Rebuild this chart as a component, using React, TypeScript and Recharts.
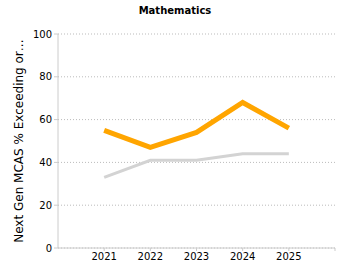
import React from 'react'
import { CartesianGrid, Label, Line, LineChart, XAxis, YAxis } from 'recharts'

const years = [2021, 2022, 2023, 2024, 2025]
const schoolValues = [55, 47, 54, 68, 56]
const stateValues = [33, 41, 41, 44, 44]
const xTicks = [2021, 2022, 2023, 2024, 2025, 2026]
const yTicks = [0, 20, 40, 60, 80, 100]

const data = years.map((year, i) => ({ year, school: schoolValues[i], state: stateValues[i] }))

const font = 'DejaVu Sans, Verdana, sans-serif'

const App: React.FC = () => {
  return (
    <div style={{ position: 'absolute', left: 0, top: 0, width: 350, height: 280, fontFamily: font }}>
      <div
        style={{
          position: 'absolute',
          top: 5,
          left: 0,
          width: 350,
          textAlign: 'center',
          fontSize: 10,
          fontWeight: 'bold',
        }}
      >
        Mathematics
      </div>
      <LineChart width={350} height={280} data={data} margin={{ top: 34, right: 15, left: 0, bottom: 2 }}>
        <CartesianGrid vertical={false} stroke="#bbb" strokeDasharray="1 2" />
        <XAxis
          dataKey="year"
          type="number"
          domain={[2020, 2026]}
          ticks={xTicks}
          tickFormatter={(v: number) => (v === 2026 ? '' : String(v))}
          stroke="#ccc"
          tickSize={3}
          tick={{ fill: '#000', fontSize: 10, fontFamily: font }}
        />
        <YAxis
          domain={[0, 100]}
          ticks={yTicks}
          width={58}
          stroke="#ccc"
          tickSize={4}
          tick={{ fill: '#000', fontSize: 10, fontFamily: font }}
        >
          <Label
            value="Next Gen MCAS % Exceeding or…"
            angle={-90}
            position="insideLeft"
            offset={19}
            style={{ textAnchor: 'middle', fill: '#000', fontSize: 12, fontFamily: font }}
          />
        </YAxis>
        <Line
          isAnimationActive={false}
          type="linear"
          dataKey="state"
          stroke="#d3d3d3"
          strokeWidth={3}
          dot={false}
        />
        <Line
          isAnimationActive={false}
          type="linear"
          dataKey="school"
          stroke="#ffa500"
          strokeWidth={5}
          dot={false}
        />
      </LineChart>
    </div>
  )
}

export default App
